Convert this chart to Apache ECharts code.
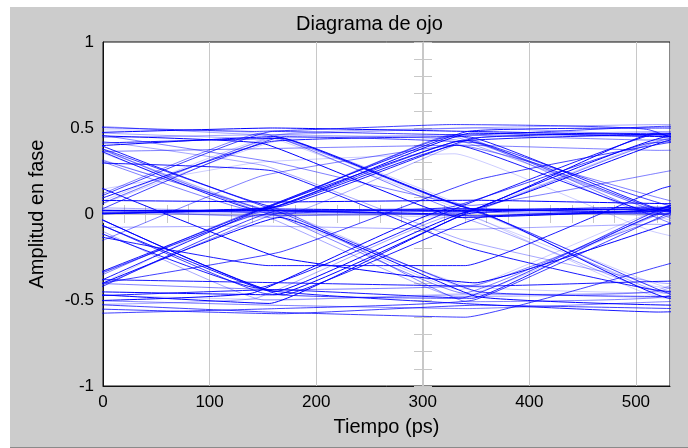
<!DOCTYPE html>
<html>
<head>
<meta charset="utf-8">
<script src="https://cdn.jsdelivr.net/npm/echarts@6/dist/echarts.min.js"></script>
<style>
html, body {margin: 0; padding: 0; background: #fff;}
#panel {position: absolute; left: 10px; top: 7px; width: 678px; height: 440px; background: #cccccc; border-bottom: 1px solid #8a8a8a;}
#showcase {position: absolute; left: 0; top: 0; width: 688px; height: 448px;}
</style>
</head>
<body>
<div id="panel"></div>
<div id="showcase"></div>
<script>
// symbol sampling instants (ps), outer ones fall outside the visible window
var sampleTimes = [-30, 155, 340, 525, 710];

// amplitude of every captured trace at each sampling instant
var traces = [
	[0.47, 0.50, 0.48, 0.46, 0.49],
	[0.44, 0.46, 0.43, 0.02, -0.44],
	[0.42, 0.01, -0.45, -0.48, -0.46],
	[0.38, 0.03, -0.01, 0.02, 0.43],
	[0.45, 0.04, 0.44, 0.47, 0.01],
	[0.02, 0.01, 0.03, 0.00, 0.02],
	[-0.01, 0.03, 0.02, 0.04, 0.01],
	[0.01, 0.46, 0.50, 0.44, 0.03],
	[0.03, -0.46, -0.49, 0.02, 0.45],
	[0.02, 0.43, 0.01, -0.44, 0.00],
	[-0.02, -0.43, 0.03, 0.46, 0.48],
	[-0.50, -0.53, -0.55, -0.51, -0.48],
	[-0.45, -0.47, 0.02, 0.45, 0.43],
	[-0.44, 0.00, 0.45, 0.03, -0.46],
	[-0.48, 0.02, 0.01, -0.47, -0.52],
	[-0.52, 0.03, -0.44, 0.01, 0.02],
	[0.41, 0.44, 0.02, 0.03, 0.01],
	[0.37, 0.02, -0.46, 0.00, 0.04],
	[0.00, 0.04, 0.47, 0.45, 0.50],
	[0.04, 0.00, -0.48, -0.45, 0.02],
	[-0.58, -0.55, -0.50, 0.01, 0.44],
	[0.49, 0.47, 0.04, -0.47, -0.50],
	[0.03, 0.42, 0.45, 0.02, -0.01],
	[-0.46, 0.01, 0.03, 0.02, -0.45],
	[0.02, 0.02, 0.00, 0.47, 0.03],
	[0.01, -0.01, 0.02, -0.46, 0.02],
	[0.51, 0.48, 0.52, 0.49, 0.03],
	[-0.47, -0.50, -0.46, -0.49, -0.02],
	[0.02, -0.44, -0.52, -0.57, -0.53],
	[0.43, -0.01, 0.02, 0.44, 0.42],
	[-0.51, -0.46, 0.03, 0.01, 0.46],
	[0.00, 0.44, 0.03, 0.01, -0.43],
	[0.01, 0.03, 0.43, 0.02, 0.00],
	[0.02, 0.01, -0.45, 0.04, 0.47],
	[0.46, 0.02, 0.40, 0.01, 0.45],
	[-0.43, 0.04, -0.51, -0.48, 0.00],
	[0.39, 0.45, 0.03, 0.43, 0.48],
	[-0.53, -0.49, -0.01, -0.44, -0.47],
	[0.04, 0.48, 0.46, 0.51, 0.47],
	[0.44, 0.03, 0.02, 0.00, 0.03],
	[-0.38, -0.40, -0.42, -0.39, -0.41],
	[0.36, 0.38, 0.40, 0.37, 0.39],
	[0.08, 0.07, 0.08, 0.06, 0.07],
	[-0.08, -0.07, -0.09, -0.06, -0.08],
	[-0.52, -0.57, -0.60, -0.30, 0.02],
	[0.01, 0.45, 0.03, 0.44, 0.02],
	[-0.49, 0.02, 0.42, 0.46, 0.44],
	[-0.40, -0.44, -0.41, 0.00, 0.03],
	[0.46, 0.41, -0.02, 0.03, 0.40],
	[0.03, -0.02, 0.44, 0.48, 0.04],
	[-0.45, -0.01, 0.04, 0.41, 0.45],
	[0.43, 0.00, -0.42, -0.46, 0.01],
	[0.01, -0.47, -0.02, 0.02, 0.03],
	[0.02, 0.47, 0.02, 0.00, -0.02],
	[-0.46, -0.52, 0.00, 0.03, -0.44],
	[0.48, 0.44, 0.46, 0.00, 0.02],
	[0.00, 0.02, -0.01, 0.03, 0.46],
	[0.01, 0.00, 0.02, -0.02, -0.45],
	[-0.48, -0.44, -0.49, 0.02, 0.00],
	[0.40, 0.02, 0.46, 0.43, 0.47],
	[-0.45, -0.02, -0.48, -0.53, -0.50],
	[0.00, -0.50, -0.47, -0.45, 0.03],
	[-0.01, 0.45, 0.41, 0.04, 0.44],
	[0.47, 0.03, 0.01, -0.42, -0.47],
	[-0.40, 0.05, 0.48, 0.50, 0.46],
	[0.02, 0.03, 0.46, -0.01, -0.46],
	[0.03, -0.45, 0.02, -0.49, 0.01],
	[0.52, 0.46, 0.50, 0.52, 0.48],
	[-0.55, -0.58, -0.53, -0.55, -0.57],
	[0.03, 0.01, -0.02, 0.02, 0.00],
	[0.30, 0.25, -0.20, -0.45, -0.30],
	[-0.25, 0.22, 0.40, 0.10, -0.20],
	[0.20, -0.25, -0.40, -0.05, 0.30],
	[0.45, 0.28, -0.15, -0.40, -0.44],
	[-0.42, -0.22, 0.20, 0.42, 0.45],
	[0.10, 0.30, 0.35, -0.10, -0.35],
	[-0.10, -0.30, -0.30, 0.15, 0.40],
	[0.48, 0.30, 0.05, 0.25, 0.46]
];

// timing jitter of each trace (ps)
var traceShift = [
	4, -8, 11, -3, 7, 0, -12, 9, -5, 14,
	-10, 2, 6, -14, 10, -6, 13, -2, 5, -9,
	8, -11, 1, 12, -7, 3, -13, 15, -4, 9,
	-15, 6, -1, 11, -8, 2, 7, -12, 4, -6,
	13, -3, 10, -10, 0, 5, -9, 12, -5, 8,
	-14, 3, 14, -7, 1, -11, 9, -2, 6, -13,
	11, -4, 15, -8, 2, -10, 7, -1, 12, -6,
	5, -7, 9, -3, 12, -10, 0, 6
];

var xTicks = [0, 532, 100];
var yTicks = [-1, 1, 0.5];

var font = "Liberation Sans, Arial, sans-serif";
var shades = [1, 0.35, 0.75, 0.2, 0.9, 0.5];

var series = traces.map(function (vals, i) {
	return {
		type: "line",
		data: vals.map(function (v, k) { return [sampleTimes[k] + traceShift[i], v]; }),
		showSymbol: false,
		smooth: 0.1,
		clip: true,
		silent: true,
		lineStyle: {color: "#0000ff", width: 1, opacity: shades[i % shades.length]}
	};
});

var myChart = echarts.init(document.getElementById("showcase"));
var eye = {
	animation: false,
	title: {
		text: "Diagrama de ojo",
		left: 291,
		top: 9,
		textStyle: {fontFamily: font, fontSize: 20, fontWeight: "normal", color: "#000"}
	},
	grid: {left: 103, right: 18, top: 42, bottom: 62, show: true, backgroundColor: "#fff", borderColor: "#111", borderWidth: 1},
	xAxis: [{
		type: "value",
		min: xTicks[0],
		max: xTicks[1],
		interval: xTicks[2],
		name: "Tiempo (ps)",
		nameLocation: "middle",
		nameGap: 31,
		nameTextStyle: {fontFamily: font, fontSize: 20, color: "#000"},
		axisLine: {onZero: false, lineStyle: {color: "#111", width: 1}},
		axisTick: {show: false},
		axisLabel: {fontFamily: font, fontSize: 17, color: "#000", margin: 8, showMaxLabel: false},
		splitLine: {show: true, lineStyle: {color: "#c8c8c8", width: 1}}
	}, {
		// centre reference line along y = 0, minor ticks every 20 ps
		type: "value", min: 0, max: 532, interval: 20, position: "bottom", offset: -172,
		axisLine: {onZero: false, lineStyle: {color: "#c8c8c8"}},
		axisTick: {show: true, length: 9, inside: true, lineStyle: {color: "#c8c8c8"}},
		axisLabel: {show: false}, splitLine: {show: false}
	}, {
		type: "value", min: 0, max: 532, interval: 20, position: "bottom", offset: -172,
		axisLine: {show: false},
		axisTick: {show: true, length: 9, inside: false, lineStyle: {color: "#c8c8c8"}},
		axisLabel: {show: false}, splitLine: {show: false}
	}],
	yAxis: [{
		type: "value",
		min: yTicks[0],
		max: yTicks[1],
		interval: yTicks[2],
		name: "Amplitud en fase",
		nameLocation: "middle",
		nameGap: 56,
		nameTextStyle: {fontFamily: font, fontSize: 20, color: "#000"},
		axisLine: {onZero: false, lineStyle: {color: "#111", width: 1}},
		axisTick: {show: false},
		axisLabel: {fontFamily: font, fontSize: 17, color: "#000", margin: 9},
		splitLine: {show: false}
	}, {
		// centre reference line at t = 300 ps, minor ticks every 0.1
		type: "value", min: -1, max: 1, interval: 0.1, position: "left", offset: -320,
		axisLine: {onZero: false, lineStyle: {color: "#c8c8c8"}},
		axisTick: {show: true, length: 9, inside: true, lineStyle: {color: "#c8c8c8"}},
		axisLabel: {show: false}, splitLine: {show: false}
	}, {
		type: "value", min: -1, max: 1, interval: 0.1, position: "left", offset: -320,
		axisLine: {show: false},
		axisTick: {show: true, length: 9, inside: false, lineStyle: {color: "#c8c8c8"}},
		axisLabel: {show: false}, splitLine: {show: false}
	}],
	series: series
};
myChart.setOption(eye);
</script>
</body>
</html>
